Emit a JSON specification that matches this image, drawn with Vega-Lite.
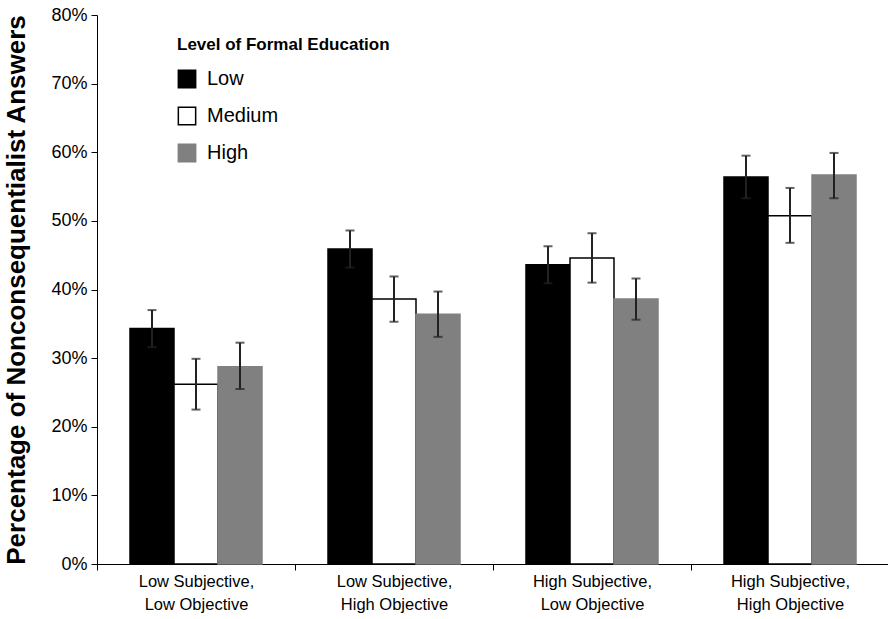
{
  "$schema": "https://vega.github.io/schema/vega-lite/v6.json",
  "width": 792,
  "height": 549,
  "autosize": "none",
  "padding": {"left": 97, "top": 15, "right": 0, "bottom": 55},
  "background": "white",
  "config": {"view": {"stroke": null}, "font": "Liberation Sans"},
  "data": {
    "values": [
      {"cond": "Low Subjective, Low Objective", "edu": "Low", "v": 0.343, "lo": 0.316, "hi": 0.370},
      {"cond": "Low Subjective, Low Objective", "edu": "Medium", "v": 0.262, "lo": 0.225, "hi": 0.299},
      {"cond": "Low Subjective, Low Objective", "edu": "High", "v": 0.2875, "lo": 0.255, "hi": 0.3225},
      {"cond": "Low Subjective, High Objective", "edu": "Low", "v": 0.459, "lo": 0.432, "hi": 0.486},
      {"cond": "Low Subjective, High Objective", "edu": "Medium", "v": 0.386, "lo": 0.353, "hi": 0.419},
      {"cond": "Low Subjective, High Objective", "edu": "High", "v": 0.364, "lo": 0.331, "hi": 0.397},
      {"cond": "High Subjective, Low Objective", "edu": "Low", "v": 0.436, "lo": 0.409, "hi": 0.463},
      {"cond": "High Subjective, Low Objective", "edu": "Medium", "v": 0.446, "lo": 0.410, "hi": 0.482},
      {"cond": "High Subjective, Low Objective", "edu": "High", "v": 0.386, "lo": 0.356, "hi": 0.416},
      {"cond": "High Subjective, High Objective", "edu": "Low", "v": 0.564, "lo": 0.533, "hi": 0.595},
      {"cond": "High Subjective, High Objective", "edu": "Medium", "v": 0.5075, "lo": 0.468, "hi": 0.548},
      {"cond": "High Subjective, High Objective", "edu": "High", "v": 0.567, "lo": 0.533, "hi": 0.599}
    ]
  },
  "encoding": {
    "x": {
      "field": "cond", "type": "nominal", "sort": null,
      "scale": {"paddingInner": 0, "paddingOuter": 0},
      "axis": {
        "title": null, "labelAngle": 0, "tickBand": "extent", "domainColor": "black",
        "tickColor": "black", "tickSize": 6,
        "labelFontSize": 16.5, "labelColor": "black", "labelPadding": 3, "labelLineHeight": 23,
        "labelExpr": "datum.label ? [split(datum.label, ', ')[0] + ',', split(datum.label, ', ')[1]] : ''"
      }
    },
    "xOffset": {
      "field": "edu", "type": "nominal", "sort": ["Low", "Medium", "High"],
      "scale": {"paddingInner": 0, "paddingOuter": 0.75}
    }
  },
  "layer": [
    {
      "mark": {"type": "bar", "strokeWidth": 1.5},
      "encoding": {
        "y": {
          "field": "v", "type": "quantitative",
          "scale": {"domain": [0, 0.8], "nice": false},
          "axis": {
            "title": "Percentage of Nonconsequentialist Answers", "titleFontSize": 26,
            "titleFontWeight": "bold", "titleColor": "black", "titleX": -68,
            "values": [0, 0.1, 0.2, 0.3, 0.4, 0.5, 0.6, 0.7, 0.8], "format": ".0%",
            "grid": false, "domainColor": "black", "tickColor": "black", "tickSize": 6,
            "labelFontSize": 18, "labelColor": "black", "labelPadding": 4
          }
        },
        "fill": {
          "field": "edu", "type": "nominal",
          "scale": {"domain": ["Low", "Medium", "High"], "range": ["#000000", "#ffffff", "#808080"]},
          "legend": {
            "title": "Level of Formal Education", "orient": "none", "legendX": 80, "legendY": 22,
            "titleFontSize": 17, "titleFontWeight": "bold", "titleColor": "black", "titlePadding": 15,
            "titleLimit": 400,
            "labelFontSize": 20, "labelColor": "black", "symbolType": "square", "symbolSize": 300,
            "symbolStrokeWidth": 1.5, "rowPadding": 13, "labelOffset": 10
          }
        },
        "stroke": {
          "field": "edu", "type": "nominal",
          "scale": {"domain": ["Low", "Medium", "High"], "range": ["#000000", "#000000", "#808080"]},
          "legend": null
        }
      }
    },
    {
      "mark": {"type": "rule", "color": "#222222", "strokeWidth": 2},
      "encoding": {
        "y": {"field": "lo", "type": "quantitative"},
        "y2": {"field": "hi"}
      }
    },
    {
      "mark": {"type": "tick", "color": "#222222", "thickness": 2, "size": 9, "orient": "horizontal"},
      "encoding": {"y": {"field": "hi", "type": "quantitative"}}
    },
    {
      "mark": {"type": "tick", "color": "#222222", "thickness": 2, "size": 9, "orient": "horizontal"},
      "encoding": {"y": {"field": "lo", "type": "quantitative"}}
    }
  ]
}
